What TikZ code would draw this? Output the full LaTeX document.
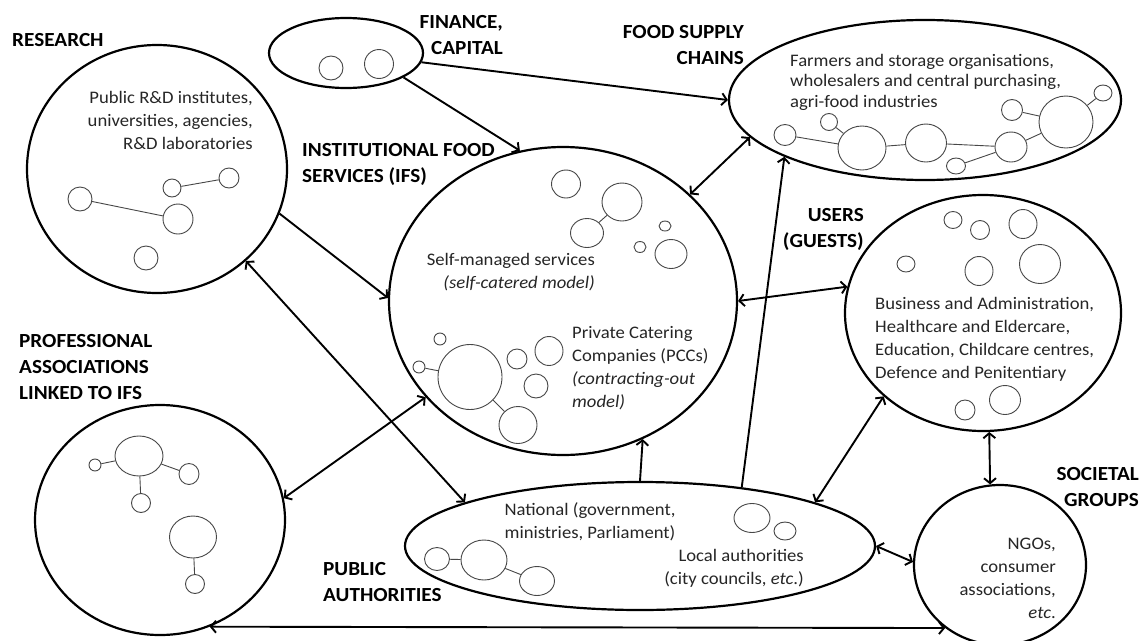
\documentclass[tikz,border=0pt]{standalone}
\usepackage{fontspec}
\setmainfont{Carlito}[FakeStretch=1.06]
\usetikzlibrary{shapes.geometric,arrows.meta}
\begin{document}
\begin{tikzpicture}[x=1pt,y=-1pt,
  big/.style={draw, ellipse, line width=2.2pt, inner sep=0pt},
  sm/.style={draw=black!72, ellipse, line width=0.9pt, inner sep=0pt},
  sc/.style={sm, minimum size=#1},
  se/.style 2 args={sm, minimum width=#1, minimum height=#2},
  link/.style={draw=black!72, line width=0.9pt},
  lbl/.style={inner sep=0pt, font=\bfseries\fontsize{20}{26}\selectfont},
  body/.style={inner sep=0pt, text=black!85, font=\fontsize{17.6}{23}\selectfont},
  arr/.style={line width=1.9pt},
  >={Straight Barb[length=5pt,width=12pt]}]
\fill[white] (0,0) rectangle (1146,640);
\useasboundingbox (0,0) rectangle (1146,640);

% ---- big shapes
\node[big, minimum width=260, minimum height=248] (res) at (157,169) {};
\node[big, minimum width=154, minimum height=70] (fin) at (346,53) {};
\node[big, minimum width=392, minimum height=160] (food) at (925,100) {};
\node[big, minimum width=348, minimum height=308] (ifs) at (563,301) {};
\node[big, minimum width=276, minimum height=236] (users) at (983,313) {};
\node[big, minimum width=250, minimum height=230] (prof) at (160,520) {};
\node[big, minimum width=470, minimum height=128] (pub) at (640,546) {};
\node[big, minimum width=172, minimum height=160] (soc) at (1000,565) {};

% ---- labels
\node[lbl, anchor=west] (tres) at (12,40) {RESEARCH};
\node[lbl, anchor=east, align=right] (tfin) at (503,35) {FINANCE,\\CAPITAL};
\node[lbl, anchor=east, align=right] (tfood) at (744,45) {FOOD SUPPLY\\CHAINS};
\node[lbl, anchor=west, align=left] (tifs) at (302,164) {INSTITUTIONAL FOOD\\SERVICES (IFS)};
\node[lbl, anchor=east, align=right] (tusers) at (864,229) {USERS\\(GUESTS)};
\node[lbl, anchor=west, align=left] (tprof) at (19,367) {PROFESSIONAL\\ASSOCIATIONS\\LINKED TO IFS};
\node[lbl, anchor=west, align=left] (tpub) at (323,582) {PUBLIC\\AUTHORITIES};
\node[lbl, anchor=east, align=right] (tsoc) at (1139,487) {SOCIETAL\\GROUPS};

% ---- body texts
\node[body, anchor=east, align=right] (bres) at (253,120) {Public R\&D institutes,\\universities, agencies,\\R\&D laboratories};
\node[body, anchor=west, align=left, font=\fontsize{17.6}{20.5}\selectfont] (bfood) at (790,82) {Farmers and storage organisations,\\wholesalers and central purchasing,\\agri-food industries};
\node[body, anchor=east, align=right] (bself) at (595,272) {Self-managed services\\\textit{(self-catered model)}};
\node[body, anchor=west, align=left] (bpcc) at (572,368) {Private Catering\\Companies (PCCs)\\\textit{(contracting-out}\\\textit{model)}};
\node[body, align=center] (bnat) at (590,522) {National (government,\\ministries, Parliament)};
\node[body, anchor=east, align=right] (bloc) at (804,568) {Local authorities\\(city councils, \textit{etc}.)};
\node[body, anchor=west, align=left] (busers) at (875,339) {Business and Administration,\\Healthcare and Eldercare,\\Education, Childcare centres,\\Defence and Penitentiary};
\node[body, anchor=east, align=right] (bsoc) at (1056,578) {NGOs,\\consumer\\associations,\\\textit{etc}.};

% ---- small circles: research
\node[sc=24] (r1) at (80,199) {};
\node[sc=18] (r2) at (172,188) {};
\node[sc=20] (r3) at (229,178) {};
\node[sc=30] (r4) at (178,219) {};
\node[sc=24] (r5) at (146,258) {};
\draw[link] (r1) -- (r4);
\draw[link] (r2) -- (r3);
% finance
\node[sc=24] (f1) at (331,68) {};
\node[sc=29] (f2) at (379,64) {};
% food
\node[se={22}{21}] (s1) at (785,135) {};
\node[sc=17] (s2) at (829,122) {};
\node[se={48}{44}] (s3) at (862,148) {};
\node[se={41}{38}] (s4) at (926,143) {};
\node[se={19}{16}] (s5) at (956,166) {};
\node[se={32}{30}] (s6) at (1011,147) {};
\node[sc=21] (s7) at (1012,110) {};
\node[se={54}{52}] (s8) at (1066,122) {};
\node[se={18}{16}] (s9) at (1103,93) {};
\draw[link] (s1) -- (s3);
\draw[link] (s2) -- (s3);
\draw[link] (s3) -- (s4);
\draw[link] (s4) -- (s6);
\draw[link] (s5) -- (s6);
\draw[link] (s6) -- (s8);
\draw[link] (s7) -- (s8);
\draw[link] (s8) -- (s9);
% IFS self-managed
\node[se={29}{28}] (i1) at (566,184) {};
\node[se={40}{38}] (i2) at (622,202) {};
\node[se={33}{29}] (i3) at (587,233) {};
\node[se={12}{10}] (i4) at (665,226) {};
\node[se={12}{11}] (i5) at (640,247) {};
\node[se={32}{29}] (i6) at (671,254) {};
\draw[link] (i2) -- (i3);
% PCC
\node[sc=12] (p1) at (440,339) {};
\node[sc=12] (p2) at (419,367) {};
\node[se={64}{65}] (p3) at (470,377) {};
\node[sc=20] (p4) at (517,359) {};
\node[se={28}{29}] (p5) at (549,351) {};
\node[sc=24] (p6) at (536,386) {};
\node[se={38}{37}] (p7) at (518,425) {};
\draw[link] (p2) -- (p3);
\draw[link] (p3) -- (p7);
% public
\node[se={25}{23}] (u1) at (437,559) {};
\node[se={46}{40}] (u2) at (484,560) {};
\node[se={35}{29}] (u3) at (537,581) {};
\node[se={36}{29}] (u4) at (752,518) {};
\node[se={22}{18}] (u5) at (785,531) {};
\draw[link] (u1) -- (u2);
\draw[link] (u2) -- (u3);
% professional
\node[sc=12] (a1) at (95,465) {};
\node[se={48}{40}] (a2) at (139,456) {};
\node[se={20}{21}] (a3) at (189,474) {};
\node[sc=19] (a4) at (141,503) {};
\node[se={47}{42}] (a5) at (193,537) {};
\node[sc=19] (a6) at (195,584) {};
\draw[link] (a1) -- (a2);
\draw[link] (a2) -- (a3);
\draw[link] (a2) -- (a4);
\draw[link] (a5) -- (a6);
% users
\node[se={18}{17}] (v1) at (953,220) {};
\node[sc=19] (v2) at (980,230) {};
\node[se={28}{29}] (v3) at (1023,224) {};
\node[se={18}{16}] (v4) at (906,264) {};
\node[se={28}{29}] (v5) at (979,271) {};
\node[se={41}{39}] (v6) at (1040,264) {};
\node[sc=20] (v7) at (965,410) {};
\node[se={31}{29}] (v8) at (1005,400) {};

% ---- connectors
\draw[arr,->] (fin.-7.5) -- (food.180);
\draw[arr,->] (fin.-23) -- (ifs.106);
\draw[arr,<->] (ifs.40.6) -- (food.192.3);
\draw[arr,->] (res.-20.5) -- (ifs.179);
\draw[arr,<->] (res.-46) -- (pub.166.8);
\draw[arr,<->] (prof.10.6) -- (ifs.215.2);
\draw[arr,->] (pub.90) -- (ifs.-60.8);
\draw[arr,->] (pub.30.7) -- (food.202.4);
\draw[arr,<->] (ifs.0) -- (users.169.7);
\draw[arr,<->] (pub.14.9) -- (users.220.9);
\draw[arr,<->] (pub.0) -- (soc.178);
\draw[arr,<->] (prof.-65.6) -- (soc.229);
\draw[arr,<->] (users.-87.1) -- (soc.97.9);
\end{tikzpicture}
\end{document}
